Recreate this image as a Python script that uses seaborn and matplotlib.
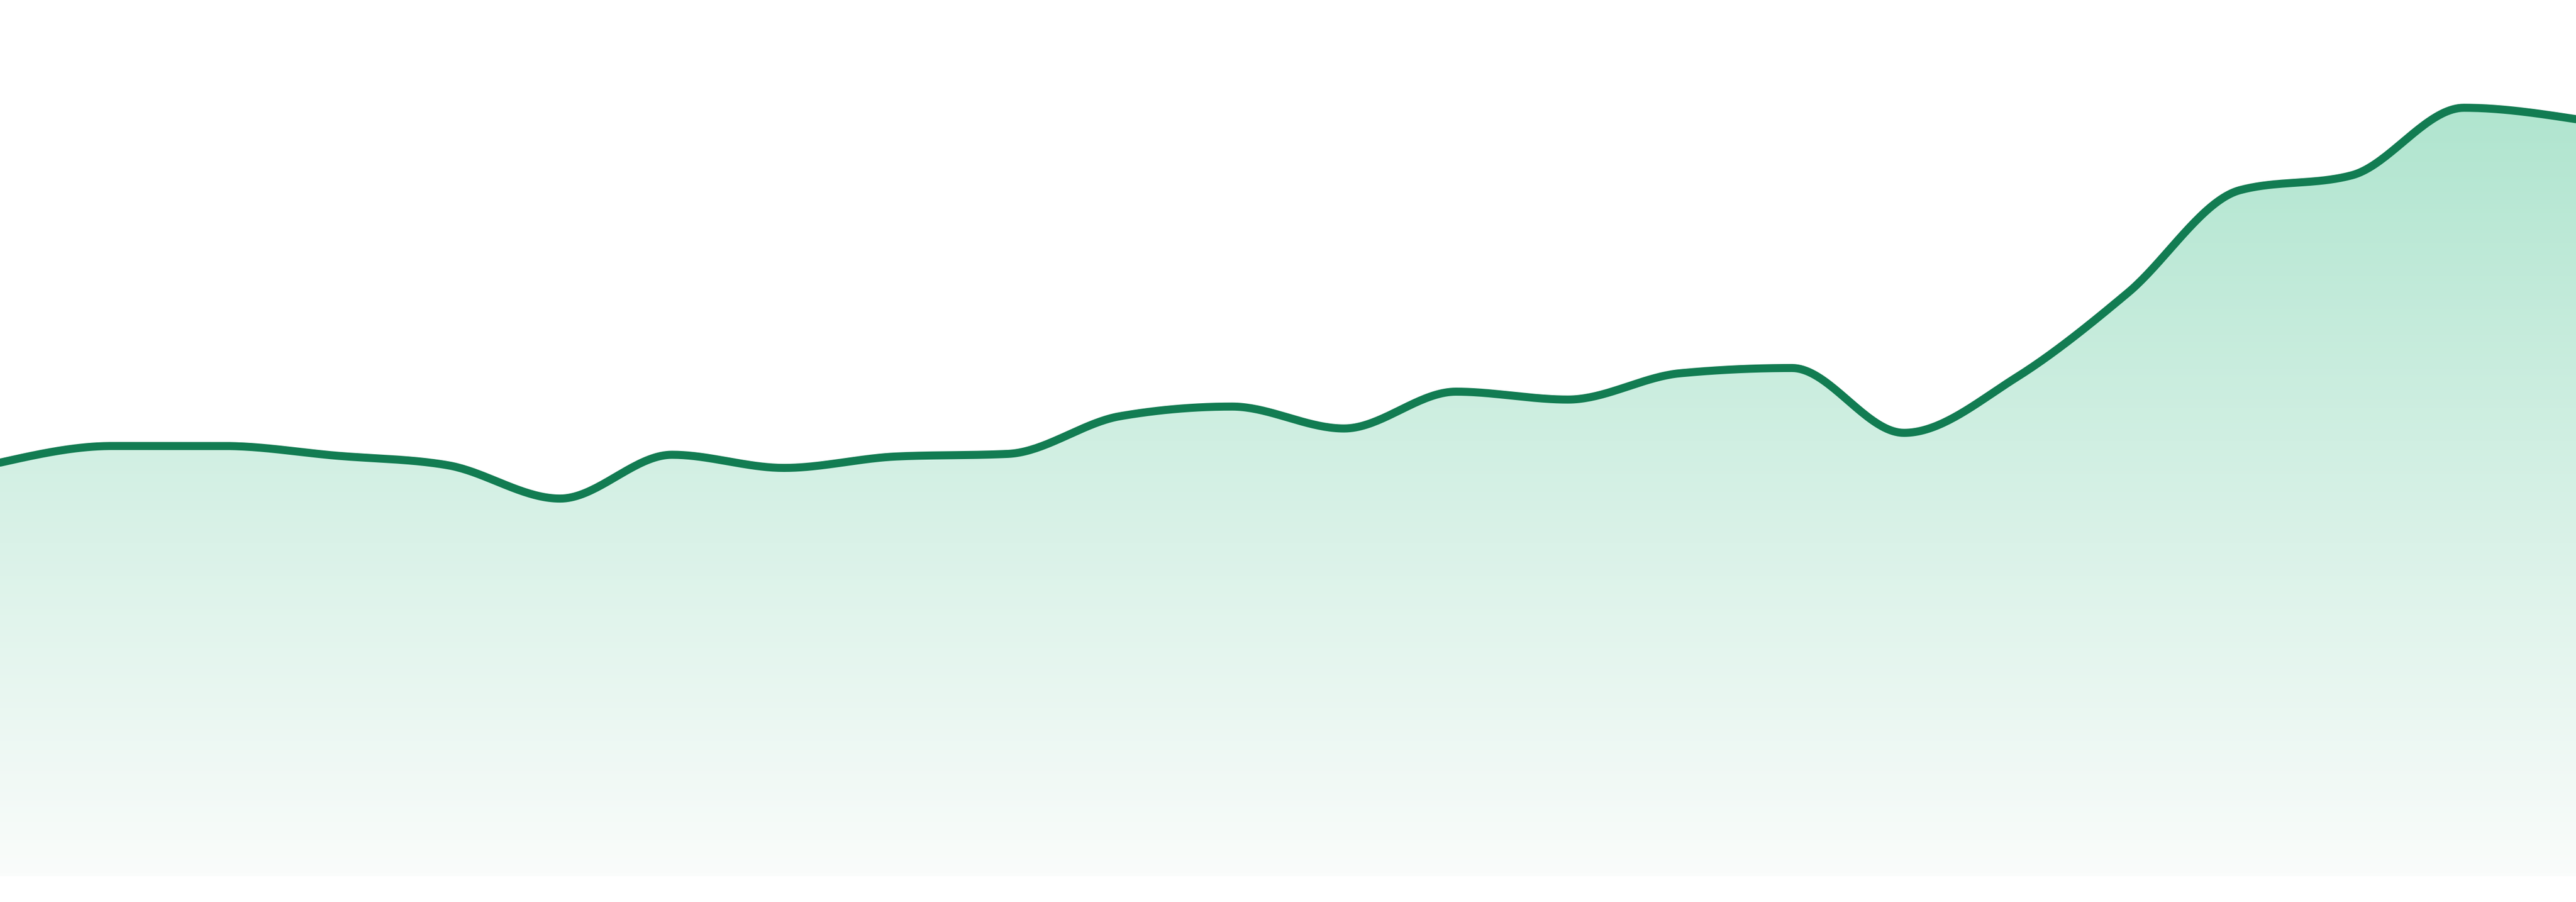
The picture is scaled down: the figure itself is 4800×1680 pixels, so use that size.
import numpy as np
import pandas as pd
import matplotlib
matplotlib.use('Agg')
import matplotlib.pyplot as plt
from matplotlib.colors import LinearSegmentedColormap
import seaborn as sns

# values (24 evenly spaced points)
values = [47.2, 49.1, 49.1, 48.0, 46.9, 43.1, 48.1, 46.6, 47.9, 48.2, 52.5, 53.6,
          51.1, 55.3, 54.4, 57.4, 58.0, 50.6, 56.9, 66.6, 78.3, 80.0, 87.7, 86.4]
steps = list(range(len(values)))

line_color = '#127c52'
fill_top = '#b0e5cf'
fill_bottom = '#fafcfb'


def monotone_curve(x, y, n=40):
    # monotone cubic (same idea as d3 curveMonotoneX) to smooth the drawn line
    x = np.asarray(x, dtype=float)
    y = np.asarray(y, dtype=float)
    h = np.diff(x)
    s = np.diff(y) / h
    t = np.zeros(len(x))
    for i in range(1, len(x) - 1):
        p = (s[i - 1] * h[i] + s[i] * h[i - 1]) / (h[i - 1] + h[i])
        t[i] = (np.sign(s[i - 1]) + np.sign(s[i])) * min(abs(s[i - 1]), abs(s[i]), 0.5 * abs(p))
    t[0] = (3 * s[0] - t[1]) / 2
    t[-1] = (3 * s[-1] - t[-2]) / 2
    xs, ys = [], []
    for i in range(len(x) - 1):
        u = np.linspace(0, 1, n, endpoint=False)
        h00 = 2 * u**3 - 3 * u**2 + 1
        h10 = u**3 - 2 * u**2 + u
        h01 = -2 * u**3 + 3 * u**2
        h11 = u**3 - u**2
        xs.append(x[i] + u * h[i])
        ys.append(h00 * y[i] + h10 * h[i] * t[i] + h01 * y[i + 1] + h11 * h[i] * t[i + 1])
    xs.append([x[-1]])
    ys.append([y[-1]])
    return np.concatenate(xs), np.concatenate(ys)


cx, cy = monotone_curve(steps, values)
curve = pd.DataFrame({'step': cx, 'value': cy})

sns.set_style('white')
fig = plt.figure(figsize=(16, 5.6), dpi=300)
ax = fig.add_axes([0, 48 / 1680, 1, 1632 / 1680])
ax.set_xlim(0, len(values) - 1)
ax.set_ylim(0, 100)

# gradient area under the line
fill = ax.fill_between(curve['step'], curve['value'], 0, color='none', lw=0)
grad = LinearSegmentedColormap.from_list('g', [fill_bottom, fill_top])
img = ax.imshow(np.linspace(0, 1, 256).reshape(-1, 1), cmap=grad, origin='lower',
                aspect='auto', extent=[0, len(values) - 1, 0, max(values)], zorder=1)
img.set_clip_path(fill.get_paths()[0], transform=ax.transData)

sns.lineplot(data=curve, x='step', y='value', ax=ax, color=line_color,
             linewidth=3.6, zorder=3, sort=False)

ax.set_axis_off()
fig.savefig('out.png', dpi=300, facecolor='white')
